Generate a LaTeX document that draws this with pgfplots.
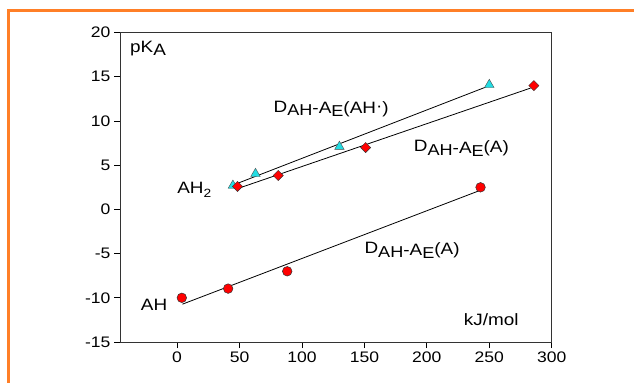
\documentclass[border=0pt]{standalone}
\usepackage{pgfplots}
\pgfplotsset{compat=1.18}
\usepackage{fontspec}
\setmainfont[FakeStretch=1.15]{Liberation Sans}
\definecolor{frameorange}{HTML}{FF7F27}
\definecolor{tricyan}{HTML}{22DDE3}
\newcommand\lab{\fontsize{16.5}{16.5}\selectfont}
\newcommand\subl[2]{\raisebox{-#1}{\fontsize{15.8}{15.8}\selectfont #2}}
\begin{document}
\begin{tikzpicture}[x=1bp,y=1bp]
\useasboundingbox (0,0) rectangle (634,382);
\fill[white] (0,0) rectangle (634,382);
\draw[frameorange, line width=3bp] (8.5,-5) -- (8.5,371.5) -- (640,371.5);
\begin{axis}[
  at={(120bp,40bp)}, anchor=south west,
  scale only axis, width=431.7bp, height=309.4bp,
  xmin=-45.7, xmax=300, ymin=-15, ymax=20,
  xtick={0,50,...,300}, ytick={-15,-10,...,20},
  tick align=outside, xtick pos=bottom, ytick pos=left,
  major tick length=6bp,
  axis line style={line width=0.8bp, black!80},
  tick style={line width=0.8bp, black},
  tick label style={font=\fontsize{15.3}{15.3}\selectfont},
  /pgf/number format/assume math mode=true,
  clip=false,
]
% fit lines
\addplot[black, line width=0.8bp, no marks] coordinates {(45,2.76) (250,13.99)};
\addplot[black, line width=0.8bp, no marks] coordinates {(48.4,2.35) (283,13.72)};
\addplot[black, line width=0.8bp, no marks] coordinates {(4.3,-10.72) (243,2.17)};
% data
\addplot[only marks, mark=triangle*, mark size=5.5bp, mark options={fill=tricyan, draw=black!70, line width=0.4bp}]
  coordinates {(44.7,2.7) (62.8,4.03) (130,7.1) (250,14.1)};
\addplot[only marks, mark=square*, mark size=3.6bp, mark options={rotate=45, fill=red, draw=black!80, line width=0.4bp}]
  coordinates {(48.4,2.6) (81,3.84) (151,7.0) (285.7,14.0)};
\addplot[only marks, mark=*, mark size=4.8bp, mark options={fill=red, draw=black!80, line width=0.5bp}]
  coordinates {(3.8,-10) (40.9,-8.96) (88.2,-7.0) (243,2.5)};
% labels
\node[anchor=base west, inner sep=0pt] at (axis cs:-37.7,17.7) {\lab pK\raisebox{-2.7bp}{A}};
\node[anchor=base west, inner sep=0pt] at (axis cs:0,1.8) {\lab AH\raisebox{-4bp}{\fontsize{12}{12}\selectfont 2}};
\node[anchor=base west, inner sep=0pt] at (axis cs:-29.1,-11.4) {\lab AH};
\node[anchor=base west, inner sep=0pt] at (axis cs:77.2,11.0) {\lab D\subl{3.5bp}{AH}\raisebox{-1.5bp}{-A}\subl{4.5bp}{E}\raisebox{-1bp}{(AH\raisebox{2bp}{·})}};
\node[anchor=base west, inner sep=0pt] at (axis cs:189.5,6.5) {\lab D\subl{3.5bp}{AH}\raisebox{-1.5bp}{-A}\subl{4.5bp}{E}\raisebox{-1bp}{(A)}};
\node[anchor=base west, inner sep=0pt] at (axis cs:150,-5.0) {\lab D\subl{3.5bp}{AH}\raisebox{-1.5bp}{-A}\subl{4.5bp}{E}\raisebox{-1bp}{(A)}};
\node[anchor=base west, inner sep=0pt] at (axis cs:229.6,-13.1) {\lab kJ/mol};
\end{axis}
\end{tikzpicture}
\end{document}
